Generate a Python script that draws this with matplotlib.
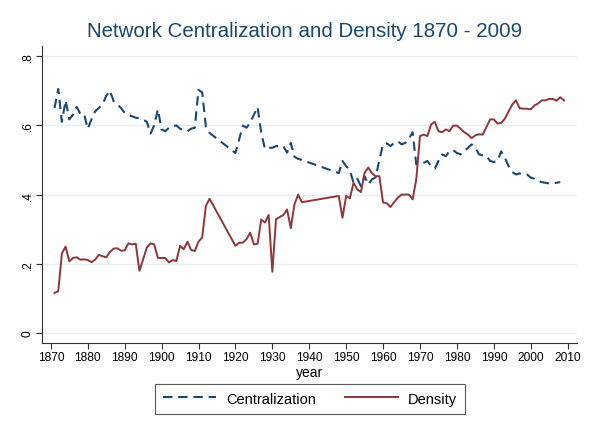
import numpy as np
import matplotlib
matplotlib.use("Agg")
import matplotlib.pyplot as plt

# years with data (gaps 1914-1919 and 1939-1947 get joined by straight lines)
years = list(range(1871, 1914)) + list(range(1920, 1939)) + list(range(1948, 2010))

centralization = [
    0.65, 0.705, 0.61, 0.672, 0.617, 0.631, 0.653, 0.633, 0.633, 0.59,      # 1871-1880
    0.617, 0.64, 0.65, 0.66, 0.685, 0.70, 0.67, 0.66, 0.65, 0.636,          # 1881-1890
    0.63, 0.626, 0.622, 0.62, 0.617, 0.61, 0.576, 0.60, 0.646, 0.588,      # 1891-1900
    0.583, 0.593, 0.597, 0.60, 0.59, 0.586, 0.583, 0.59, 0.593, 0.702,     # 1901-1910
    0.695, 0.596, 0.578,                                                    # 1911-1913
    0.52, 0.559, 0.599, 0.593, 0.607, 0.63, 0.653, 0.578, 0.532, 0.535,    # 1920-1929
    0.535, 0.54, 0.54, 0.54, 0.521, 0.549, 0.509, 0.503, 0.50,             # 1930-1938
    0.462, 0.497, 0.482, 0.47, 0.434, 0.446, 0.424, 0.453, 0.429, 0.444,   # 1948-1957
    0.45, 0.50, 0.545, 0.548, 0.54, 0.549, 0.554, 0.545, 0.549, 0.561,     # 1958-1967
    0.58, 0.487, 0.487, 0.492, 0.497, 0.482, 0.475, 0.497, 0.516, 0.511,   # 1968-1977
    0.525, 0.528, 0.52, 0.516, 0.525, 0.535, 0.545, 0.535, 0.516, 0.513,   # 1978-1987
    0.511, 0.497, 0.494, 0.497, 0.525, 0.506, 0.482, 0.465, 0.458, 0.461,  # 1988-1997
    0.458, 0.458, 0.449, 0.446, 0.439, 0.436, 0.434, 0.432, 0.432, 0.434,  # 1998-2007
    0.436, np.nan,                                                          # 2008-2009
]

density = [
    0.116, 0.121, 0.23, 0.25, 0.207, 0.217, 0.219, 0.212, 0.213, 0.211,    # 1871-1880
    0.205, 0.212, 0.226, 0.222, 0.219, 0.234, 0.244, 0.245, 0.238, 0.239,  # 1881-1890
    0.259, 0.256, 0.258, 0.18, 0.213, 0.247, 0.259, 0.256, 0.217, 0.217,   # 1891-1900
    0.217, 0.204, 0.211, 0.208, 0.252, 0.242, 0.264, 0.24, 0.237, 0.264,   # 1901-1910
    0.276, 0.367, 0.388,                                                    # 1911-1913
    0.252, 0.261, 0.261, 0.271, 0.29, 0.256, 0.258, 0.328, 0.319, 0.341,   # 1920-1929
    0.177, 0.329, 0.335, 0.341, 0.357, 0.303, 0.372, 0.40, 0.378,          # 1930-1938
    0.396, 0.333, 0.396, 0.389, 0.434, 0.415, 0.407, 0.463, 0.478, 0.461,  # 1948-1957
    0.453, 0.453, 0.377, 0.375, 0.364, 0.378, 0.391, 0.40, 0.40, 0.40,     # 1958-1967
    0.386, 0.444, 0.569, 0.573, 0.569, 0.602, 0.61, 0.583, 0.58, 0.588,    # 1968-1977
    0.583, 0.599, 0.599, 0.59, 0.58, 0.573, 0.563, 0.571, 0.574, 0.573,    # 1978-1987
    0.595, 0.617, 0.617, 0.605, 0.607, 0.619, 0.64, 0.66, 0.672, 0.649,    # 1988-1997
    0.648, 0.648, 0.646, 0.657, 0.663, 0.672, 0.672, 0.676, 0.676, 0.671,  # 1998-2007
    0.681, 0.672,                                                           # 2008-2009
]

x_ticks = list(range(1870, 2011, 10))
y_ticks = [0, 0.2, 0.4, 0.6, 0.8]
y_labels = ['0', '.2', '.4', '.6', '.8']

navy = '#1a476f'
maroon = '#90353b'

plt.rcParams['font.family'] = ['Liberation Sans', 'DejaVu Sans']

fig = plt.figure(figsize=(5.93, 4.27), dpi=100)
ax = fig.add_axes([0.0708, 0.194, 0.902, 0.696])

ax.plot(years, centralization, color=navy, lw=1.5, linestyle=(0, (4.5, 2.8)),
        label='Centralization')
ax.plot(years, density, color=maroon, lw=1.4, label='Density')

ax.set_xlim(1867.6, 2012.5)
ax.set_ylim(-0.029, 0.829)
ax.set_xticks(x_ticks)
ax.set_yticks(y_ticks)
ax.set_yticklabels(y_labels, rotation=90, va='center')
ax.tick_params(labelsize=8.6, length=4, width=0.8, color='#333333', pad=2)
ax.grid(axis='y', color='#e8eef0', lw=1)
ax.set_axisbelow(True)
for s in ['top', 'right']:
    ax.spines[s].set_visible(False)
for s in ['left', 'bottom']:
    ax.spines[s].set_color('#333333')
    ax.spines[s].set_linewidth(0.8)

ax.set_xlabel('year', fontsize=10, labelpad=1)
fig.suptitle('Network Centralization and Density 1870 - 2009', fontsize=14.8,
             color=navy, x=0.513, y=0.948)

leg = fig.legend(loc='lower center', bbox_to_anchor=(0.523, 0.012), ncol=2,
                 fontsize=10.5, frameon=True, fancybox=False, handlelength=3.6,
                 columnspacing=2.0, borderpad=0.55, handletextpad=0.7)
leg.get_frame().set_edgecolor('#333333')
leg.get_frame().set_linewidth(0.8)

fig.savefig('out.png', dpi=100)
